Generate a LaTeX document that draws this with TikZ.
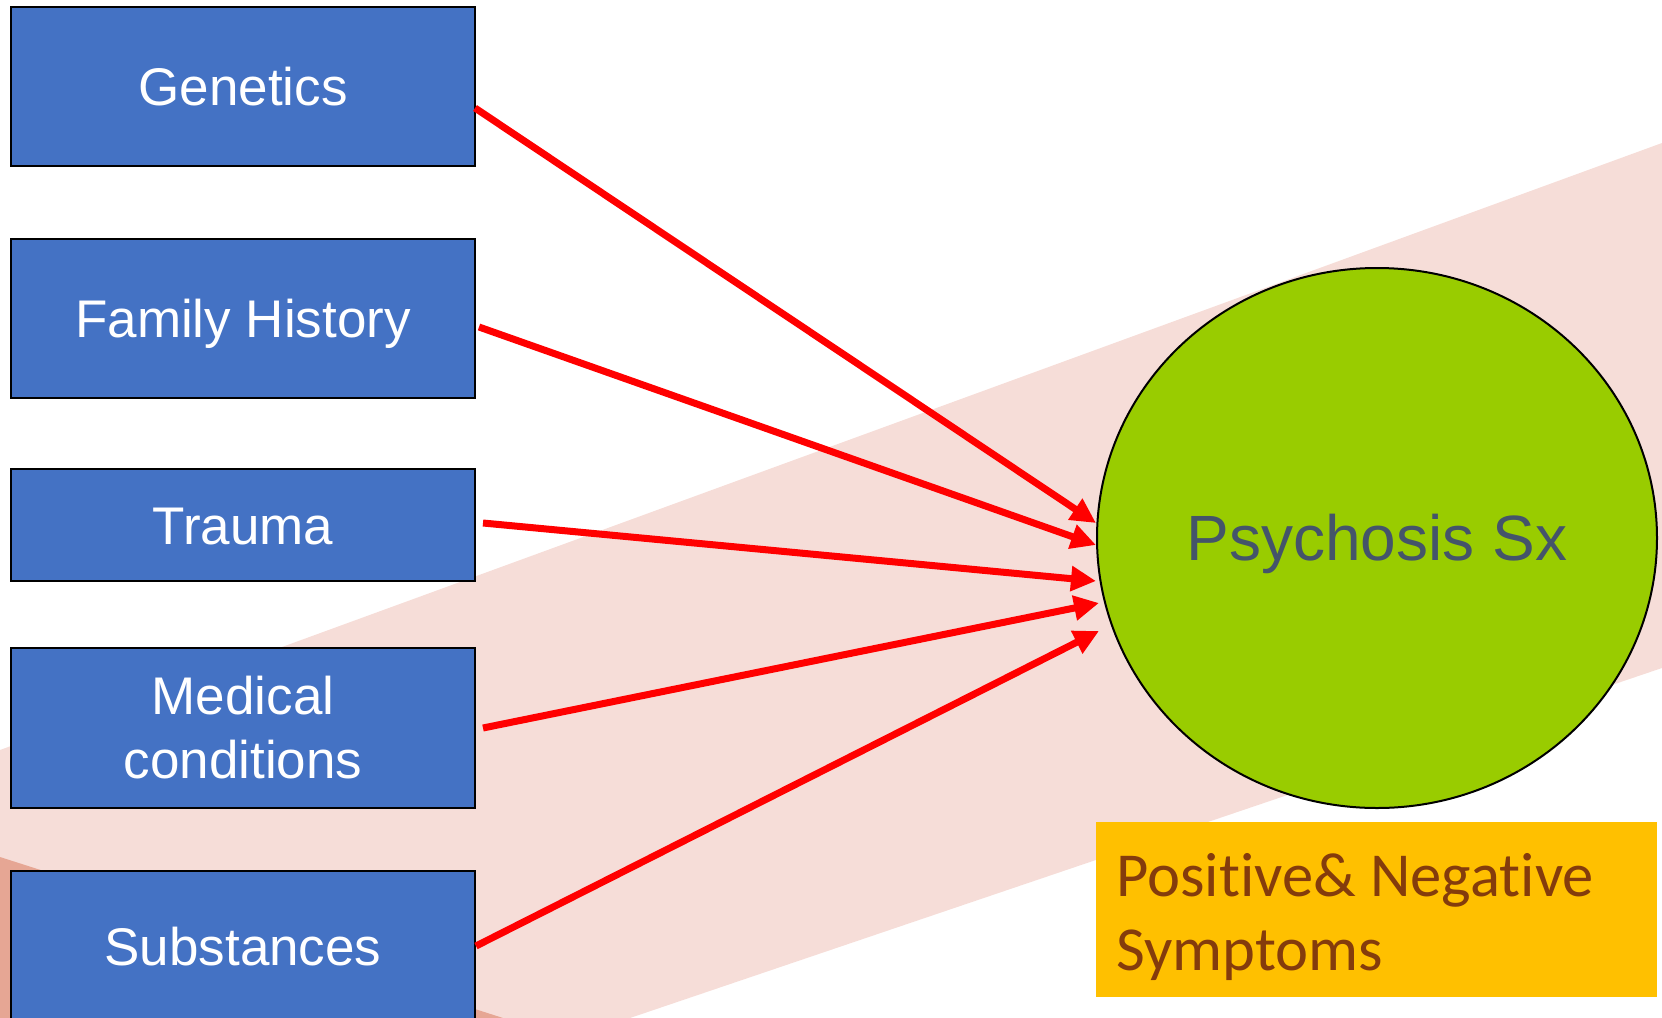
\documentclass[tikz,border=0pt]{standalone}
\usepackage{fontspec}
\setmainfont{Liberation Sans}
\newfontfamily\notefont[Ligatures={NoCommon}]{Carlito}
\usepackage{xcolor}
\usetikzlibrary{arrows.meta,positioning,shapes.geometric}
\definecolor{causeblue}{HTML}{4472C4}
\definecolor{sxgreen}{HTML}{99CC00}
\definecolor{sxtext}{HTML}{44546A}
\definecolor{noteyellow}{HTML}{FFC000}
\definecolor{notebrown}{HTML}{843C0C}
\definecolor{bandpink}{RGB}{246,221,216}
\definecolor{banddark}{RGB}{230,166,148}
\tikzset{
	cause/.style={draw=black, line width=1pt, fill=causeblue, text=white,
		minimum width=232pt, minimum height=79.5pt, inner sep=0pt, outer sep=0pt,
		align=center, font=\fontsize{26.5}{32}\selectfont,
		text height=19pt, text depth=0pt},
	sx/.style={ellipse, draw=black, line width=1pt, fill=sxgreen, text=sxtext,
		minimum width=280pt, minimum height=270pt, inner sep=0pt,
		font=\fontsize{32}{38}\selectfont, text height=22.9pt, text depth=0pt},
	notebox/.style={fill=noteyellow},
	note/.style={text=notebrown, inner sep=0pt, anchor=base west, align=left,
		font=\notefont\fontsize{31.3}{37}\selectfont},
	ar/.style={draw=red, line width=3.5pt, -{Triangle[length=12.5pt,width=12pt]}},
	band/.style={fill=bandpink, draw=none}
}

\begin{document}
\begin{tikzpicture}[x=0.5pt, y=-0.5pt, node distance=36.5pt]
	\useasboundingbox (0,0) rectangle (1662,1018);
	% background band
	\fill[band] (0,750) -- (1662,143) -- (1662,668) -- (630,1018) -- (0,1018) -- cycle;
	\fill[banddark] (0,857) -- (503,1018) -- (0,1018) -- cycle;

	\node[cause] (gen) at (243,86.5) {Genetics};
	\node[cause, below=of gen] (fam) {Family History};
	\node[cause, below=35.5pt of fam, minimum height=56pt] (trauma) {Trauma};
	\node[cause, below=33.5pt of trauma, minimum height=80pt,
		text height={}, text depth={}] (med) {Medical\\conditions};
	\node[cause, below=31.5pt of med, minimum height=75pt] (subst) {Substances};

	\node[sx] (psy) at (1377,538) {Psychosis Sx};
	\fill[notebox] (1096,822) rectangle (1657,997);
	\node[note] (sympt) at (1116,970) {Positive\& Negative\\Symptoms};

	\draw[ar] ([shift={(0,21.5)}]gen.east) -- ([shift={(0,-15)}]psy.west);
	\draw[ar] ([shift={(4,8.5)}]fam.east) -- ([shift={(0,7)}]psy.west);
	\draw[ar] ([shift={(8,-2)}]trauma.east) -- ([shift={(0,43)}]psy.west);
	\draw[ar] ([shift={(8,0)}]med.east) -- ([shift={(3,65)}]psy.west);
	\draw[ar] ([shift={(1,0)}]subst.east) -- ([shift={(3,93)}]psy.west);
\end{tikzpicture}
\end{document}
